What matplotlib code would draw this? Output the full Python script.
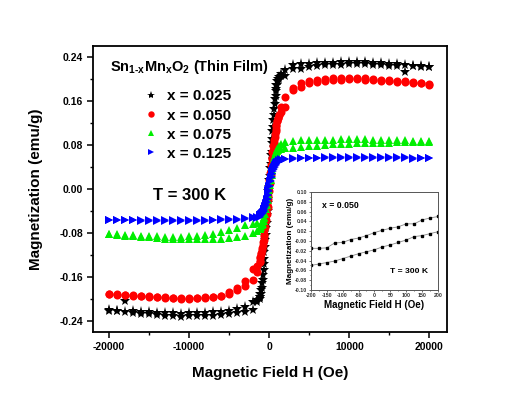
import matplotlib
matplotlib.use("Agg")
import matplotlib.pyplot as plt
from matplotlib.ticker import MultipleLocator, FormatStrFormatter

plt.rcParams['font.family'] = ['Liberation Sans', 'DejaVu Sans']
plt.rcParams['font.weight'] = 'bold'
plt.rcParams['axes.unicode_minus'] = False
plt.rcParams['mathtext.fontset'] = 'custom'
plt.rcParams['mathtext.rm'] = 'Liberation Sans:bold'
plt.rcParams['mathtext.bf'] = 'Liberation Sans:bold'
plt.rcParams['mathtext.default'] = 'bf'

# ---------------- data ----------------
H_DESC = [20000, 19000, 18000, 17000, 16000, 15000, 14000, 13000, 12000, 11000,
          10000, 9000, 8000, 7000, 6000, 5000, 4000, 3000, 2000, 1500,
          1200, 1100, 1000, 900, 800, 700, 600, 500, 400, 300, 200, 100, 0,
          -100, -200, -300, -400, -500, -600, -700, -800, -900, -1000, -1100, -1200,
          -1500, -2000, -3000, -4000, -5000, -6000, -7000, -8000, -9000, -10000,
          -11000, -12000, -13000, -14000, -15000, -16000, -17000, -18000, -19000, -20000]

# x = 0.025 (black stars)
M025_DESC = [0.222, 0.223, 0.224, 0.226, 0.227, 0.228, 0.229, 0.230, 0.231, 0.231,
             0.231, 0.231, 0.230, 0.230, 0.229, 0.228, 0.227, 0.225, 0.217, 0.210,
             0.200, 0.196, 0.190, 0.182, 0.170, 0.155, 0.135, 0.113, 0.091, 0.068, 0.046, 0.024, 0.003,
             -0.018, -0.040, -0.062, -0.084, -0.106, -0.127, -0.147, -0.165, -0.180, -0.190, -0.196, -0.200,
             -0.205, -0.220, -0.223, -0.226, -0.228, -0.229, -0.230, -0.231, -0.231, -0.231,
             -0.232, -0.231, -0.230, -0.229, -0.228, -0.227, -0.225, -0.224, -0.222, -0.221]
M025_ASC = [-0.220, -0.221, -0.203, -0.222, -0.223, -0.224, -0.225, -0.226, -0.226, -0.227,
            -0.226, -0.226, -0.225, -0.224, -0.223, -0.221, -0.218, -0.215, -0.205, -0.201,
            -0.197, -0.191, -0.183, -0.171, -0.156, -0.137, -0.115, -0.093, -0.070, -0.048, -0.026, -0.004, 0.017,
            0.039, 0.061, 0.083, 0.105, 0.126, 0.146, 0.164, 0.179, 0.189, 0.196, 0.200, 0.203,
            0.205, 0.206, 0.218, 0.219, 0.222, 0.224, 0.225, 0.226, 0.226, 0.227,
            0.227, 0.227, 0.226, 0.225, 0.224, 0.223, 0.212, 0.223, 0.222, 0.221]

# x = 0.050 (red circles)
M050_DESC = [0.191, 0.193, 0.195, 0.196, 0.197, 0.198, 0.199, 0.200, 0.201, 0.202,
             0.202, 0.202, 0.201, 0.200, 0.199, 0.197, 0.193, 0.184, 0.167, 0.150,
             0.135, 0.130, 0.124, 0.117, 0.109, 0.100, 0.090, 0.079, 0.067, 0.055, 0.043, 0.030, 0.017,
             0.002, -0.013, -0.028, -0.043, -0.058, -0.072, -0.085, -0.097, -0.108, -0.117, -0.124, -0.130,
             -0.140, -0.146, -0.168, -0.184, -0.190, -0.194, -0.196, -0.198, -0.199, -0.200,
             -0.200, -0.199, -0.198, -0.197, -0.196, -0.195, -0.194, -0.193, -0.192, -0.191]
M050_ASC = [-0.190, -0.191, -0.192, -0.193, -0.194, -0.195, -0.196, -0.197, -0.198, -0.199,
            -0.199, -0.198, -0.197, -0.196, -0.194, -0.188, -0.180, -0.176, -0.166, -0.150,
            -0.132, -0.126, -0.119, -0.111, -0.102, -0.092, -0.081, -0.069, -0.057, -0.045, -0.032, -0.018, -0.004,
            0.011, 0.026, 0.041, 0.056, 0.070, 0.083, 0.095, 0.106, 0.115, 0.123, 0.129, 0.134,
            0.140, 0.149, 0.180, 0.186, 0.192, 0.195, 0.197, 0.198, 0.199, 0.200,
            0.200, 0.199, 0.198, 0.197, 0.196, 0.195, 0.194, 0.193, 0.192, 0.190]

# x = 0.075 (green triangles)
M075_DESC = [0.087, 0.088, 0.088, 0.089, 0.089, 0.090, 0.090, 0.090, 0.091, 0.091,
             0.091, 0.091, 0.090, 0.090, 0.090, 0.089, 0.089, 0.088, 0.086, 0.082,
             0.078, 0.075, 0.072, 0.068, 0.063, 0.057, 0.050, 0.042, 0.034, 0.025, 0.016, 0.007, -0.002,
             -0.011, -0.020, -0.029, -0.037, -0.045, -0.052, -0.058, -0.063, -0.066, -0.069, -0.071, -0.073,
             -0.062, -0.064, -0.066, -0.070, -0.075, -0.079, -0.082, -0.084, -0.085, -0.086,
             -0.087, -0.087, -0.087, -0.086, -0.086, -0.085, -0.084, -0.083, -0.082, -0.081]
M075_ASC = [-0.082, -0.083, -0.085, -0.086, -0.087, -0.088, -0.089, -0.090, -0.090, -0.091,
            -0.091, -0.091, -0.091, -0.090, -0.090, -0.089, -0.088, -0.086, -0.080, -0.076,
            -0.072, -0.069, -0.066, -0.062, -0.057, -0.051, -0.044, -0.036, -0.027, -0.018, -0.009, 0.000, 0.009,
            0.018, 0.027, 0.035, 0.043, 0.050, 0.056, 0.061, 0.065, 0.068, 0.070, 0.071, 0.072,
            0.073, 0.074, 0.075, 0.077, 0.078, 0.079, 0.080, 0.081, 0.082, 0.082,
            0.083, 0.083, 0.084, 0.084, 0.084, 0.085, 0.085, 0.085, 0.086, 0.086]

# x = 0.125 (blue right triangles)
M125_DESC = [0.056, 0.057, 0.055, 0.058, 0.058, 0.058, 0.058, 0.058, 0.058, 0.058,
             0.058, 0.058, 0.058, 0.058, 0.057, 0.057, 0.057, 0.056, 0.055, 0.054,
             0.052, 0.050, 0.048, 0.046, 0.043, 0.040, 0.036, 0.032, 0.027, 0.021, 0.014, 0.006, -0.003,
             -0.011, -0.018, -0.024, -0.029, -0.033, -0.037, -0.040, -0.042, -0.044, -0.046, -0.047, -0.048,
             -0.050, -0.051, -0.053, -0.054, -0.055, -0.055, -0.056, -0.056, -0.056, -0.057,
             -0.057, -0.057, -0.057, -0.057, -0.057, -0.057, -0.057, -0.056, -0.056, -0.056]
M125_ASC = [-0.057, -0.057, -0.057, -0.057, -0.058, -0.058, -0.058, -0.058, -0.058, -0.058,
            -0.058, -0.058, -0.058, -0.057, -0.057, -0.057, -0.056, -0.055, -0.053, -0.052,
            -0.050, -0.049, -0.047, -0.045, -0.043, -0.040, -0.036, -0.031, -0.025, -0.018, -0.010, -0.002, 0.006,
            0.014, 0.021, 0.027, 0.032, 0.036, 0.040, 0.043, 0.045, 0.047, 0.049, 0.050, 0.051,
            0.053, 0.054, 0.055, 0.056, 0.056, 0.057, 0.057, 0.057, 0.057, 0.057,
            0.057, 0.057, 0.057, 0.057, 0.057, 0.057, 0.057, 0.057, 0.057, 0.057]

LABELS = ["x = 0.025", "x = 0.050", "x = 0.075", "x = 0.125"]
COLORS = ["black", "#ff0000", "#00ee00", "#0000ff"]
MARKERS = ["*", "o", "^", ">"]
MSIZES = [8.0, 5.8, 6.2, 6.2]
LEG_MSIZES = [6.0, 4.6, 4.8, 4.8]

X_TICKS = [-20000, -10000, 0, 10000, 20000]
Y_TICKS = [-0.24, -0.16, -0.08, 0.00, 0.08, 0.16, 0.24]

# inset data (x = 0.050, low field)
H_INSET = [-200, -175, -150, -125, -100, -75, -50, -25, 0, 25, 50, 75, 100, 125, 150, 175, 200]
M_INSET_UP = [-0.015, -0.015, -0.014, -0.004, -0.003, 0.003, 0.006, 0.011, 0.017,
              0.022, 0.026, 0.029, 0.035, 0.035, 0.043, 0.047, 0.050]
M_INSET_LOW = [-0.050, -0.047, -0.044, -0.041, -0.036, -0.031, -0.026, -0.022, -0.018,
               -0.012, -0.008, -0.003, 0.002, 0.009, 0.011, 0.015, 0.019]

# ---------------- plot ----------------
fig = plt.figure(figsize=(5.18, 3.98), dpi=100)
ax = fig.add_axes([0.1795, 0.1658, 0.6835, 0.7186])

series = [(M025_DESC, M025_ASC), (M050_DESC, M050_ASC), (M075_DESC, M075_ASC), (M125_DESC, M125_ASC)]
H_ASC = H_DESC[::-1]
for (md, ma), lab, c, mk, ms in zip(series, LABELS, COLORS, MARKERS, MSIZES):
    assert len(md) == len(H_DESC) and len(ma) == len(H_DESC)
    ax.plot(H_DESC + H_ASC, md + ma, linestyle='none', marker=mk, color=c,
            markersize=ms, markeredgewidth=0, label=lab)

ax.set_xlim(-22000, 22200)
ax.set_ylim(-0.26, 0.26)
ax.set_xticks(X_TICKS)
ax.set_yticks(Y_TICKS)
ax.xaxis.set_minor_locator(MultipleLocator(5000))
ax.yaxis.set_minor_locator(MultipleLocator(0.04))
ax.yaxis.set_major_formatter(FormatStrFormatter('%.2f'))
ax.tick_params(which='major', direction='out', length=4, width=1.1, labelsize=7.5, pad=3)
ax.tick_params(which='minor', direction='out', length=2.5, width=1.0)
ax.tick_params(top=False, right=False, which='both')
for lbl in ax.get_xticklabels() + ax.get_yticklabels():
    lbl.set_fontweight('bold')
for sp in ax.spines.values():
    sp.set_linewidth(1.3)

ax.set_xlabel("Magnetic Field H (Oe)", fontsize=11, fontweight='bold', labelpad=10)
ax.set_ylabel("Magnetization (emu/g)", fontsize=11, fontweight='bold', labelpad=12)

ax.text(0.048, 0.927, r"Sn$_{1\text{-}x}$Mn$_x$O$_2$ (Thin Film)", transform=ax.transAxes,
        fontsize=10.5, fontweight='bold', ha='left', va='center')
ax.text(0.169, 0.479, "T = 300 K", transform=ax.transAxes,
        fontsize=12, fontweight='bold', ha='left', va='center')

leg = ax.legend(loc='upper left', bbox_to_anchor=(0.1424, 0.848), frameon=False,
                borderpad=0, borderaxespad=0, handlelength=1.0, handletextpad=0.55,
                labelspacing=0.33, prop={'weight': 'bold', 'size': 11})
for h, s in zip(leg.legend_handles, LEG_MSIZES):
    h.set_markersize(s)

# inset
axi = fig.add_axes([0.600, 0.2714, 0.2456, 0.2462])
axi.plot(H_INSET, M_INSET_UP, color='#888888', linewidth=0.6, marker='s',
         markersize=2, markerfacecolor='black', markeredgecolor='black')
axi.plot(H_INSET, M_INSET_LOW, color='#888888', linewidth=0.6, marker='s',
         markersize=2, markerfacecolor='black', markeredgecolor='black')
axi.set_xlim(-200, 200)
axi.set_ylim(-0.10, 0.10)
axi.xaxis.set_major_locator(MultipleLocator(50))
axi.xaxis.set_minor_locator(MultipleLocator(25))
axi.yaxis.set_major_locator(MultipleLocator(0.02))
axi.yaxis.set_minor_locator(MultipleLocator(0.01))
axi.yaxis.set_major_formatter(FormatStrFormatter('%.2f'))
axi.tick_params(which='major', direction='out', length=1.5, width=0.5, labelsize=3.8, pad=1, colors='#333333')
axi.tick_params(which='minor', direction='out', length=0.8, width=0.4)
for lbl in axi.get_xticklabels() + axi.get_yticklabels():
    lbl.set_fontweight('bold')
for sp in axi.spines.values():
    sp.set_linewidth(0.7)
    sp.set_color('#555555')
axi.set_xlabel("Magnetic Field H (Oe)", fontsize=7, fontweight='bold', labelpad=1)
axi.set_ylabel("Magnetization (emu/g)", fontsize=5.9, fontweight='bold', labelpad=1)
axi.text(0.09, 0.86, "x = 0.050", transform=axi.transAxes, fontsize=6.3,
         fontweight='bold', ha='left', va='center')
axi.text(0.62, 0.19, "T = 300 K", transform=axi.transAxes, fontsize=6.1,
         fontweight='bold', ha='left', va='center')

fig.savefig("out.png", dpi=100)
